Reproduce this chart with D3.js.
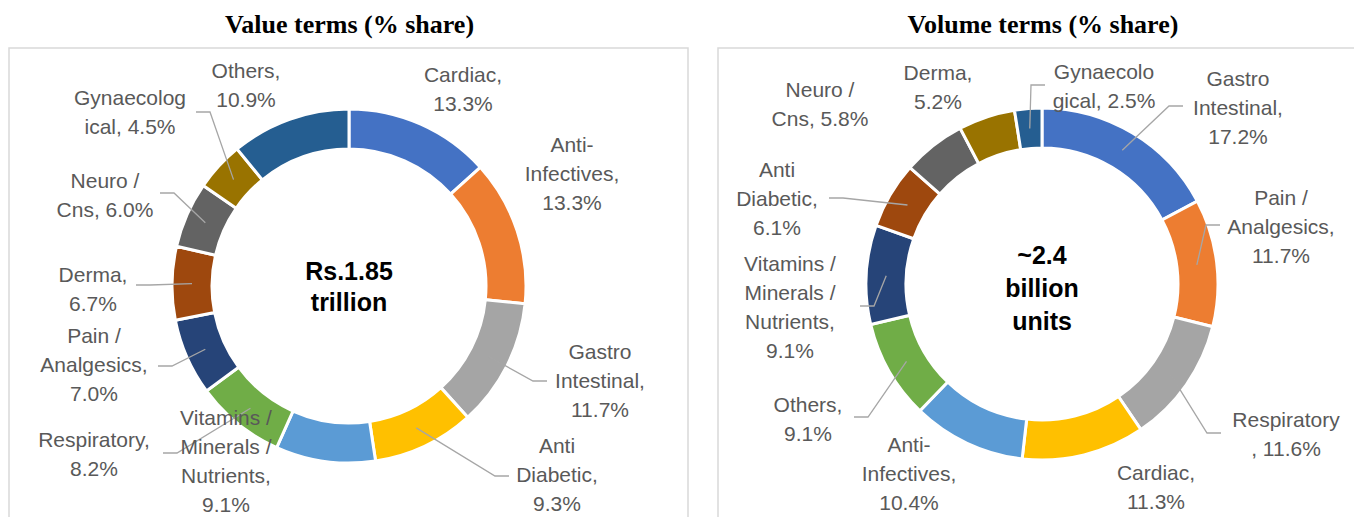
<!DOCTYPE html>
<html>
<head>
<meta charset="utf-8">
<script src="https://cdn.jsdelivr.net/npm/d3@7"></script>
<style>
  body { margin: 0; background: #fff; }
  svg { display: block; }
</style>
</head>
<body>
<script>
let width = 1354, height = 517

// slice colours, by position round the ring (Excel default order)
const sliceColors = ["#4472c4", "#ed7d31", "#a5a5a5", "#ffc000", "#5b9bd5", "#70ad47",
    "#264478", "#9e480e", "#636363", "#997300", "#255e91"]

// value terms
const valueCats = ["Cardiac", "Anti-Infectives", "Gastro Intestinal", "Anti Diabetic",
    "Vitamins / Minerals / Nutrients", "Respiratory", "Pain / Analgesics", "Derma",
    "Neuro / Cns", "Gynaecological", "Others"]
const valueShares = [13.3, 13.3, 11.7, 9.3, 9.1, 8.2, 7.0, 6.7, 6.0, 4.5, 10.9]
const valueCentre = ["Rs.1.85", "trillion"]

// volume terms
const volumeCats = ["Gastro Intestinal", "Pain / Analgesics", "Respiratory", "Cardiac",
    "Anti-Infectives", "Others", "Vitamins / Minerals / Nutrients", "Anti Diabetic",
    "Neuro / Cns", "Derma", "Gynaecological"]
const volumeShares = [17.2, 11.7, 11.6, 11.3, 10.4, 9.1, 9.1, 6.1, 5.8, 5.2, 2.5]
const volumeCentre = ["~2.4", "billion", "units"]

// how each data label wraps ({v} = the share)
const valueWrap = [["Cardiac,", "{v}"], ["Anti-", "Infectives,", "{v}"], ["Gastro", "Intestinal,", "{v}"],
    ["Anti", "Diabetic,", "{v}"], ["Vitamins /", "Minerals /", "Nutrients,", "{v}"], ["Respiratory,", "{v}"],
    ["Pain /", "Analgesics,", "{v}"], ["Derma,", "{v}"], ["Neuro /", "Cns, {v}"], ["Gynaecolog", "ical, {v}"],
    ["Others,", "{v}"]]
const volumeWrap = [["Gastro", "Intestinal,", "{v}"], ["Pain /", "Analgesics,", "{v}"], ["Respiratory", ", {v}"],
    ["Cardiac,", "{v}"], ["Anti-", "Infectives,", "{v}"], ["Others,", "{v}"], ["Vitamins /", "Minerals /", "Nutrients,", "{v}"],
    ["Anti", "Diabetic,", "{v}"], ["Neuro /", "Cns, {v}"], ["Derma,", "{v}"], ["Gynaecolo", "gical, {v}"]]

// manual label placement, offset from the ring centre (first baseline)
const valueLabelPos = [[114, -204], [223, -134], [251, 73], [208, 167], [-123, 139], [-255, 161],
    [-255, 57], [-256, -4], [-244, -98], [-219, -181], [-103, -208]]
const valueLeaders = [null, null, [198, 95], [160, 190], null, [-186, 167], [-191, 80], [-213, -1],
    [-189, -93], [-153, -174], null]
const volumeLabelPos = [[196, -198], [239, -79], [244, 143], [114, 196], [-133, 168], [-234, 128],
    [-252, -13], [-265, -107], [-222, -187], [-104, -204], [62, -205]]
const volumeLeaders = [[141, -178], [178, -59], [179, 149], null, null, [-188, 133], [-182, 22],
    [-213, -86], null, null, [3, -199]]

let panels = [
    {title: "Value terms (% share)", cats: valueCats, shares: valueShares, centre: valueCentre,
     centreY: [-6, 25], wrap: valueWrap, pos: valueLabelPos, leaders: valueLeaders,
     box: [9, 48, 679], cx: 349, cy: 286, r: 177, ir: 137},
    {title: "Volume terms (% share)", cats: volumeCats, shares: volumeShares, centre: volumeCentre,
     centreY: [-20, 13, 46], wrap: volumeWrap, pos: volumeLabelPos, leaders: volumeLeaders,
     box: [718, 48, 648], cx: 1042, cy: 284, r: 176, ir: 136}
]

let svg = d3.select("body").append("svg")
    .attr("width", width)
    .attr("height", height)

svg.append("rect").attr("width", width).attr("height", height).attr("fill", "#fff")

let fmt = d3.format(".1f")
let lineH = 29

panels.forEach(p => {
    let g = svg.append("g")

    g.append("rect")
        .attr("x", p.box[0]).attr("y", p.box[1])
        .attr("width", p.box[2]).attr("height", height)
        .attr("fill", "none")
        .attr("stroke", "#d9d9d9")
        .attr("stroke-width", 1.5)

    g.append("text")
        .attr("x", p.box[0] + p.box[2] / 2 + 1)
        .attr("y", 33)
        .attr("text-anchor", "middle")
        .attr("font-family", "'Liberation Serif', 'Times New Roman', serif")
        .attr("font-weight", "bold")
        .attr("font-size", 26)
        .attr("fill", "#000")
        .text(p.title)

    let data = p.cats.map((c, i) => ({cat: c, share: p.shares[i], i: i}))
    let pie = d3.pie().sort(null).value(d => d.share)
    let arcs = pie(data)
    let arc = d3.arc().innerRadius(p.ir).outerRadius(p.r)
    let mid = d3.arc().innerRadius((p.ir + p.r) / 2).outerRadius((p.ir + p.r) / 2)

    let ring = g.append("g").attr("transform", `translate(${p.cx},${p.cy})`)

    ring.selectAll("path.slice")
        .data(arcs)
        .enter().append("path")
        .attr("class", "slice")
        .attr("d", arc)
        .attr("fill", d => sliceColors[d.index])
        .attr("stroke", "#fff")
        .attr("stroke-width", 3)

    // leader lines: short horizontal stub, then to the middle of the slice
    ring.selectAll("path.leader")
        .data(arcs.filter(d => p.leaders[d.index]))
        .enter().append("path")
        .attr("class", "leader")
        .attr("fill", "none")
        .attr("stroke", "#a6a6a6")
        .attr("stroke-width", 1.3)
        .attr("d", d => {
            let s = p.leaders[d.index]
            let c = mid.centroid(d)
            let dir = c[0] > s[0] ? 1 : -1
            return d3.line()([s, [s[0] + dir * 14, s[1]], c])
        })

    let labels = ring.selectAll("text.lbl")
        .data(arcs)
        .enter().append("text")
        .attr("class", "lbl")
        .attr("text-anchor", "middle")
        .attr("font-family", "'Liberation Sans', Arial, sans-serif")
        .attr("font-size", 21)
        .attr("fill", "#595959")

    labels.each(function(d) {
        let t = d3.select(this)
        let xy = p.pos[d.index]
        p.wrap[d.index].forEach((ln, k) => {
            t.append("tspan")
                .attr("x", xy[0])
                .attr("y", xy[1] + k * lineH)
                .text(ln.replace("{v}", fmt(d.data.share) + "%"))
        })
    })

    ring.append("text")
        .attr("text-anchor", "middle")
        .attr("font-family", "'Liberation Sans', Arial, sans-serif")
        .attr("font-weight", "bold")
        .attr("font-size", 25)
        .attr("fill", "#000")
        .selectAll("tspan")
        .data(p.centre)
        .enter().append("tspan")
        .attr("x", 0)
        .attr("y", (d, i) => p.centreY[i])
        .text(d => d)
})
</script>
</body>
</html>
